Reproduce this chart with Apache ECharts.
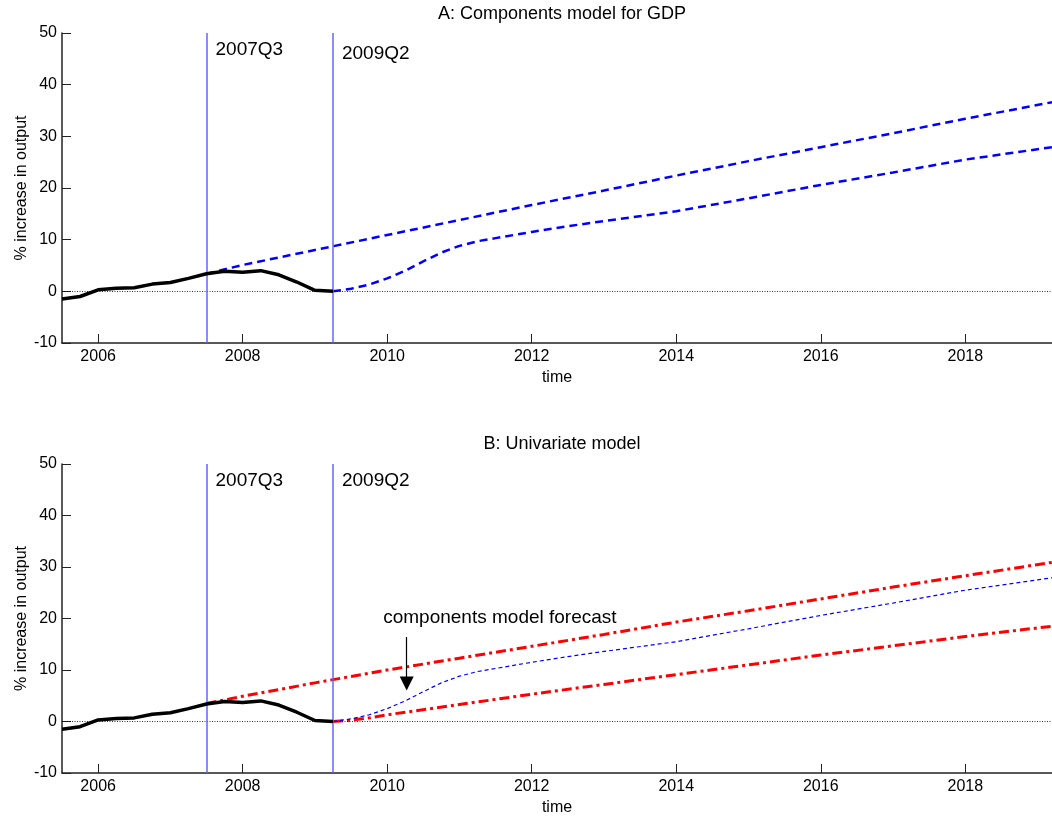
<!DOCTYPE html>
<html>
<head>
<meta charset="utf-8">
<title>GDP forecasts</title>
<script src="https://cdn.jsdelivr.net/npm/echarts@6/dist/echarts.min.js"></script>
<style>
  html, body { margin: 0; padding: 0; background: #fff; }
  #chart { width: 1052px; height: 817px; }
</style>
</head>
<body>
<div id="chart"></div>
<script>
// actual output, quarterly
const actualTime = [2005.5, 2005.75, 2006, 2006.25, 2006.5, 2006.75, 2007, 2007.25,
  2007.5, 2007.75, 2008, 2008.25, 2008.5, 2008.75, 2009, 2009.25];
const actualValue = [-1.5, -1.0, 0.3, 0.6, 0.7, 1.4, 1.7, 2.5,
  3.4, 3.9, 3.7, 4.0, 3.2, 1.8, 0.2, 0.0];

// components model: pre-crisis trend from 2007Q3
const trendTime = [2007.5, 2008, 2009, 2010, 2011, 2012, 2013, 2014, 2015, 2016, 2017, 2018, 2019.2];
const trendValue = [3.4, 5.1, 8.0, 10.9, 13.8, 16.7, 19.5, 22.4, 25.2, 27.9, 30.6, 33.4, 36.6];

// components model forecast from 2009Q2
const compTime = [2009.25, 2009.5, 2009.75, 2010, 2010.25, 2010.5, 2010.75, 2011, 2011.25,
  2011.5, 2011.75, 2012, 2012.5, 2013, 2014, 2015, 2016, 2017, 2018, 2019.2];
const compValue = [0.0, 0.5, 1.3, 2.5, 4.0, 5.8, 7.5, 8.8, 9.7,
  10.3, 10.9, 11.5, 12.6, 13.6, 15.5, 18.0, 20.6, 23.0, 25.5, 27.9];

// univariate model
const uniTrendTime = [2007.5, 2008, 2009, 2010, 2011, 2012, 2013, 2014, 2015, 2016, 2017, 2018, 2019.2];
const uniTrendValue = [3.5, 4.9, 7.5, 10.0, 12.3, 14.6, 16.9, 19.3, 21.5, 23.8, 26.1, 28.3, 30.9];
const uniLowTime = [2009.25, 2009.5, 2009.75, 2010, 2011, 2012, 2013, 2014, 2015, 2016, 2017, 2018, 2019.2];
const uniLowValue = [0.0, 0.25, 0.7, 1.3, 3.3, 5.3, 7.2, 9.1, 11.0, 12.9, 14.7, 16.5, 18.5];

const yearTicks = [2006, 2008, 2010, 2012, 2014, 2016, 2018];
const eventTime = [2007.5, 2009.25];
const eventLabel = ["2007Q3", "2009Q2"];
const panelTitles = ["A: Components model for GDP", "B: Univariate model"];

const FONT = "Liberation Sans, Arial, sans-serif";
const AXIS_COLOR = "#222";

function pairs(t, v) {
  return t.map((x, i) => [x, v[i]]);
}

function makeX(gridIndex) {
  return {
    type: "value",
    gridIndex: gridIndex,
    min: 2005.5,
    max: 2019.2,
    name: "time",
    nameLocation: "middle",
    nameGap: 27,
    nameMoveOverlap: false,
    nameTextStyle: { color: "#000", fontSize: 16, fontFamily: FONT },
    splitLine: { show: false },
    axisLine: { onZero: false, lineStyle: { color: AXIS_COLOR, width: 1.5 } },
    axisTick: { inside: true, length: 9, customValues: yearTicks, lineStyle: { color: AXIS_COLOR, width: 1 } },
    axisLabel: {
      customValues: yearTicks,
      formatter: v => String(v),
      margin: 6,
      color: "#000",
      fontSize: 16,
      fontFamily: FONT
    }
  };
}

function makeY(gridIndex) {
  return {
    type: "value",
    gridIndex: gridIndex,
    min: -10,
    max: 50,
    interval: 10,
    name: "% increase in output",
    nameLocation: "middle",
    nameGap: 32,
    nameMoveOverlap: false,
    nameTextStyle: { color: "#000", fontSize: 16, fontFamily: FONT },
    splitLine: { show: false },
    axisLine: { show: true, lineStyle: { color: AXIS_COLOR, width: 1.5 } },
    axisTick: { show: true, inside: true, length: 9, lineStyle: { color: AXIS_COLOR, width: 1 } },
    axisLabel: { margin: 5, color: "#000", fontSize: 16, fontFamily: FONT }
  };
}

function actualSeries(idx, labelY) {
  return {
    type: "line",
    xAxisIndex: idx,
    yAxisIndex: idx,
    data: pairs(actualTime, actualValue),
    showSymbol: false,
    z: 5,
    lineStyle: { color: "#000", width: 3.5 },
    markLine: {
      silent: true,
      symbol: "none",
      label: { show: false },
      data: [
        { yAxis: 0, lineStyle: { color: "#000", width: 0.8, type: [1, 1.5] } },
        { xAxis: eventTime[0], lineStyle: { color: "#6464ff", width: 1.5, type: "solid" } },
        { xAxis: eventTime[1], lineStyle: { color: "#6464ff", width: 1.5, type: "solid" } }
      ]
    },
    markPoint: {
      silent: true,
      symbol: "circle",
      symbolSize: 0,
      label: {
        show: true,
        position: "right",
        distance: 9,
        formatter: "{b}",
        color: "#000",
        fontSize: 19,
        fontFamily: FONT
      },
      data: eventTime.map((t, i) => ({ name: eventLabel[i], coord: [t, labelY[i]] }))
    }
  };
}

const option = {
  animation: false,
  backgroundColor: "#fff",
  title: panelTitles.map((txt, i) => ({
    text: txt,
    left: 557,
    textAlign: "center",
    top: i === 0 ? 0 : 430,
    textStyle: { color: "#000", fontSize: 18, fontWeight: "normal", fontFamily: FONT }
  })),
  grid: [
    { left: 62, right: 0, top: 33, height: 310 },
    { left: 62, right: 0, top: 464, height: 310 }
  ],
  xAxis: [makeX(0), makeX(1)],
  yAxis: [makeY(0), makeY(1)],
  series: [
    actualSeries(0, [46.8, 46.0]),
    {
      type: "line",
      xAxisIndex: 0,
      yAxisIndex: 0,
      data: pairs(trendTime, trendValue),
      showSymbol: false,
      lineStyle: { color: "#0000ff", width: 2.5, type: [8, 5] }
    },
    {
      type: "line",
      xAxisIndex: 0,
      yAxisIndex: 0,
      data: pairs(compTime, compValue),
      showSymbol: false,
      lineStyle: { color: "#0000ff", width: 2.5, type: [8, 5] }
    },
    actualSeries(1, [46.8, 46.8]),
    {
      type: "line",
      xAxisIndex: 1,
      yAxisIndex: 1,
      data: pairs(uniTrendTime, uniTrendValue),
      showSymbol: false,
      lineStyle: { color: "#ff0000", width: 3, type: [10, 4, 3, 4] }
    },
    {
      type: "line",
      xAxisIndex: 1,
      yAxisIndex: 1,
      data: pairs(uniLowTime, uniLowValue),
      showSymbol: false,
      lineStyle: { color: "#ff0000", width: 3, type: [10, 4, 3, 4] }
    },
    {
      type: "line",
      xAxisIndex: 1,
      yAxisIndex: 1,
      data: pairs(compTime, compValue),
      showSymbol: false,
      lineStyle: { color: "#0000ff", width: 1.2, type: [4, 3] },
      markLine: {
        silent: true,
        symbol: ["none", "triangle"],
        symbolSize: [14, 14],
        label: { show: false },
        lineStyle: { color: "#000", width: 1.2, type: "solid" },
        data: [[{ coord: [2010.27, 16.4] }, { coord: [2010.27, 7.4] }]]
      },
      markPoint: {
        silent: true,
        symbol: "circle",
        symbolSize: 0,
        label: {
          show: true,
          position: "inside",
          formatter: "{b}",
          color: "#000",
          fontSize: 19,
          fontFamily: FONT
        },
        data: [{ name: "components model forecast", coord: [2011.56, 20.2] }]
      }
    }
  ]
};

const chart = echarts.init(document.getElementById("chart"), null, { renderer: "canvas" });
chart.setOption(option);
</script>
</body>
</html>
